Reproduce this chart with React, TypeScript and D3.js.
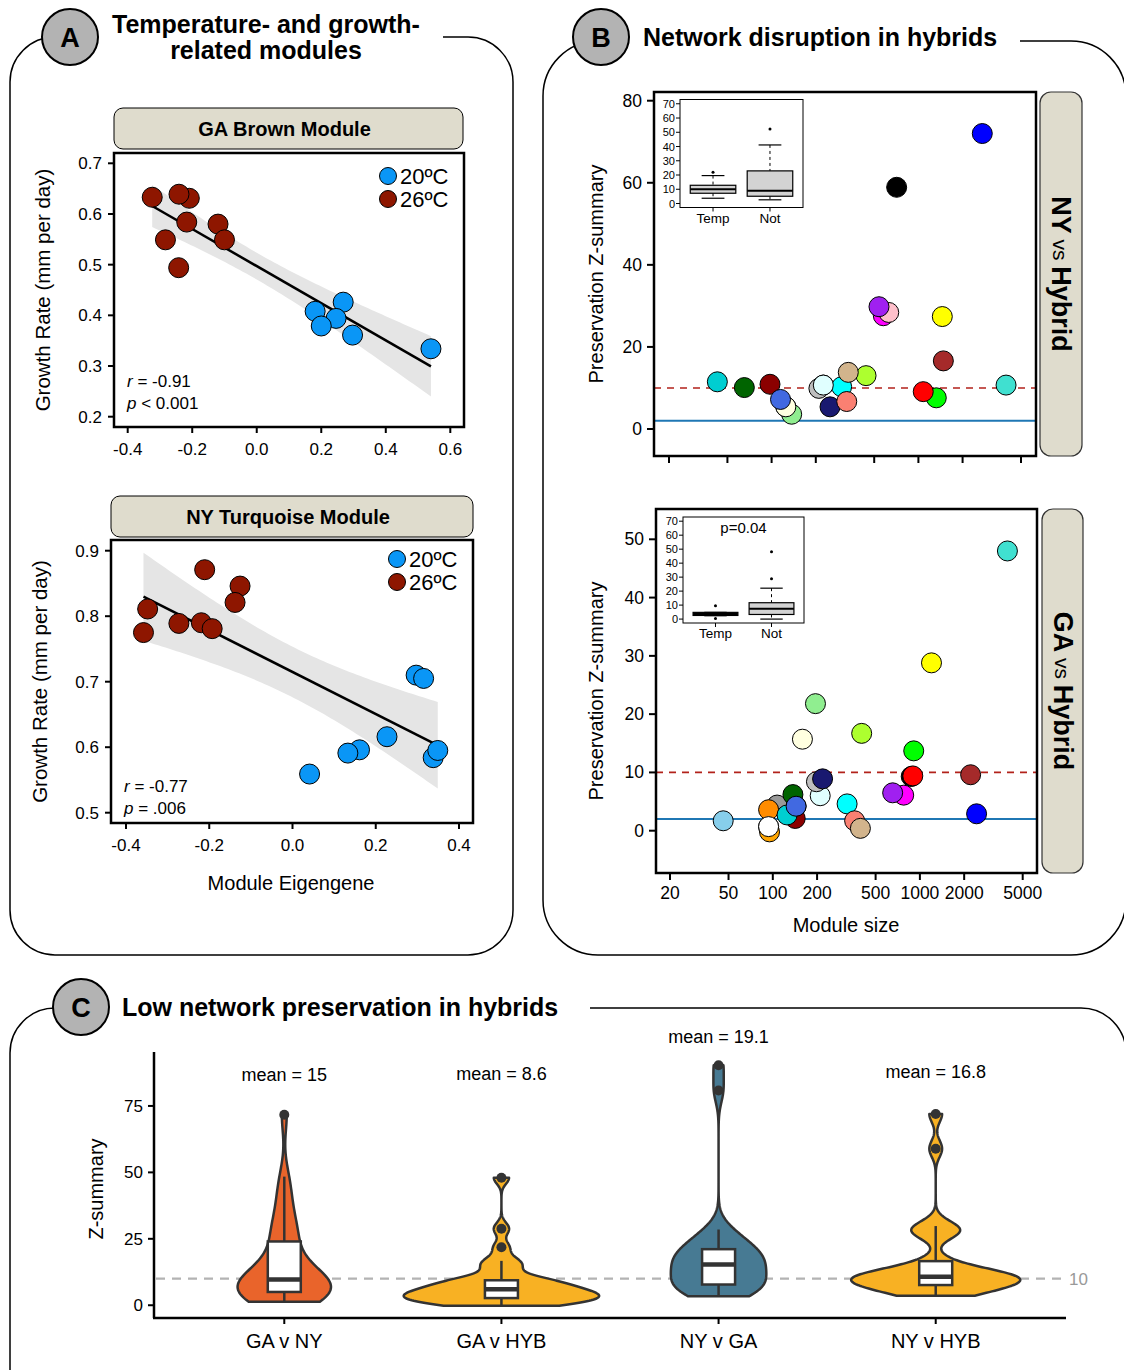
import * as d3 from 'd3';

const FONT = '"Liberation Sans", Arial, Helvetica, sans-serif';
const COL20 = '#0a96f6';
const COL26 = '#8e1600';
const STRIP_FILL = '#dfdccd';

// ---------- Panel A: eigengene vs growth rate ----------
const tempLabels = ['20ºC', '26ºC'];

const gaBrownEig20 = [0.181, 0.268, 0.246, 0.2, 0.297, 0.54];
const gaBrownGrowth20 = [0.408, 0.426, 0.394, 0.379, 0.361, 0.334];
const gaBrownEig26 = [-0.324, -0.209, -0.241, -0.217, -0.12, -0.1, -0.283, -0.242];
const gaBrownGrowth26 = [0.633, 0.631, 0.639, 0.584, 0.58, 0.549, 0.549, 0.494];

const nyTurqEig20 = [0.297, 0.315, 0.227, 0.161, 0.133, 0.041, 0.338, 0.349];
const nyTurqGrowth20 = [0.71, 0.705, 0.616, 0.596, 0.591, 0.559, 0.584, 0.595];
const nyTurqEig26 = [-0.211, -0.126, -0.138, -0.348, -0.273, -0.219, -0.193, -0.358];
const nyTurqGrowth26 = [0.871, 0.846, 0.821, 0.811, 0.789, 0.79, 0.781, 0.775];

const gaBrownXTicks = [-0.4, -0.2, 0, 0.2, 0.4, 0.6];
const gaBrownYTicks = [0.2, 0.3, 0.4, 0.5, 0.6, 0.7];
const nyTurqXTicks = [-0.4, -0.2, 0, 0.2, 0.4];
const nyTurqYTicks = [0.5, 0.6, 0.7, 0.8, 0.9];

// ---------- Panel B: preservation vs module size ----------
const moduleColors: Record<string, string> = {
  darkturquoise: '#00CED1', darkgreen: '#006400', darkred: '#8B0000', lightgreen: '#90EE90',
  lightyellow: '#FFFFE0', royalblue: '#4169E1', grey: '#BEBEBE', lightcyan: '#E0FFFF',
  cyan: '#00FFFF', midnightblue: '#191970', salmon: '#FA8072', tan: '#D2B48C',
  greenyellow: '#ADFF2F', magenta: '#FF00FF', pink: '#FFC0CB', purple: '#A020F0',
  black: '#000000', red: '#FF0000', green: '#00FF00', yellow: '#FFFF00', brown: '#A52A2A',
  turquoise: '#40E0D0', blue: '#0000FF', white: '#FFFFFF', skyblue: '#87CEEB',
  orange: '#FFA500', darkorange: '#FF8C00', grey60: '#999999', lightgrey: '#D3D3D3',
  steelblue: '#4682B4',
};

const nyHybModules = ['white', 'skyblue', 'turquoise', 'blue', 'black', 'darkturquoise', 'darkgreen',
  'darkred', 'lightgreen', 'lightyellow', 'royalblue', 'greenyellow', 'grey', 'cyan', 'lightcyan',
  'midnightblue', 'salmon', 'tan', 'magenta', 'pink', 'purple', 'green', 'red', 'yellow', 'brown'];
const nyHybSize = [125, 225, 3955, 2724, 711, 42.7, 65.2, 97.5, 137, 125, 115, 440, 210, 300, 225,
  250, 325, 333, 577, 628, 539, 1324, 1079, 1455, 1479];
const nyHybZ = [5.4, 10.7, 10.7, 72.0, 58.9, 11.5, 10.1, 10.9, 3.6, 5.4, 7.2, 13.0, 9.9, 10.3, 10.7,
  5.4, 6.7, 13.8, 27.6, 28.4, 29.8, 7.6, 9.1, 27.4, 16.6];

const gaHybModules = ['lightgrey', 'steelblue', 'turquoise', 'yellow', 'lightgreen', 'lightyellow',
  'greenyellow', 'green', 'black', 'red', 'brown', 'blue', 'magenta', 'purple', 'lightcyan', 'grey',
  'midnightblue', 'cyan', 'salmon', 'tan', 'skyblue', 'orange', 'grey60', 'darkorange', 'white',
  'darkred', 'darkgreen', 'darkturquoise', 'royalblue'];
const gaHybSize = [93.6, 144, 3936, 1199, 195, 159, 402, 908, 873, 895, 2213, 2429, 776, 653, 210,
  198, 218, 320, 360, 394, 46, 95, 107, 93.6, 93.6, 142, 137, 125, 144];
const gaHybZ = [0.7, 4.2, 48.0, 28.8, 21.8, 15.7, 16.7, 13.7, 9.3, 9.4, 9.6, 2.9, 6.1, 6.5, 6.0,
  8.4, 8.9, 4.6, 1.7, 0.4, 1.7, -0.2, 4.4, 3.6, 0.7, 2.1, 6.2, 2.7, 4.2];

const sizeTicks = [20, 50, 100, 200, 500, 1000, 2000, 5000];
const nyHybYTicks = [0, 20, 40, 60, 80];
const gaHybYTicks = [0, 10, 20, 30, 40, 50];
const zThreshold = 10;
const zLow = 2;

// inset boxplots: [whiskerLo, q1, median, q3, whiskerHi]
const insetGroups = ['Temp', 'Not'];
const insetTicks = [0, 10, 20, 30, 40, 50, 60, 70];
const nyInsetStats = [[3.7, 7.2, 10.0, 12.8, 19.6], [2.6, 5.1, 8.9, 22.9, 41.1]];
const nyInsetOutliers = [[21.9], [52.3]];
const gaInsetStats = [[2.4, 2.6, 3.6, 4.8, 4.8], [0.0, 3.3, 7.4, 11.7, 22.1]];
const gaInsetOutliers = [[0.5, 9.5], [28.8, 48.1]];

// ---------- Panel C: violins ----------
const comparisons = ['GA v NY', 'GA v HYB', 'NY v GA', 'NY v HYB'];
const gaNyZ = [1.3, 1.8, 2.4, 3.0, 3.5, 4.0, 4.4, 4.7, 5.0, 5.4, 5.9, 6.4, 6.9, 7.4, 8.0, 8.7, 9.7,
  10.5, 11.3, 12.2, 13.3, 14.8, 16.8, 19.5, 24.0, 25.5, 27.5, 30.0, 33.5, 38.0, 43.0, 48.4, 71.7];
const nyGaZ = [3.4, 4.5, 5.5, 6.2, 6.8, 7.3, 7.8, 9.0, 10.5, 12.0, 13.2, 14.3, 15.3, 16.2, 17.0,
  18.0, 19.0, 20.0, 21.1, 22.5, 24.0, 26.0, 28.5, 80.8, 90.3];
const violinValues = [gaNyZ, gaHybZ, nyGaZ, nyHybZ];
const violinFill = ['#e9642b', '#f8b123', '#477a93', '#f8b123'];
const meanLabels = ['mean = 15', 'mean = 8.6', 'mean = 19.1', 'mean = 16.8'];
const meanLabelZ = [86.7, 87.0, 101, 87.8];
const violinYTicks = [0, 25, 50, 75];

// ---------- helpers ----------
function linFit(xs: number[], ys: number[]) {
  const n = xs.length;
  const mx = d3.mean(xs)!, my = d3.mean(ys)!;
  let sxx = 0, sxy = 0;
  xs.forEach((x, i) => { sxx += (x - mx) ** 2; sxy += (x - mx) * (ys[i] - my); });
  const b = sxy / sxx, a = my - b * mx;
  let sse = 0;
  xs.forEach((x, i) => { sse += (ys[i] - a - b * x) ** 2; });
  const s = Math.sqrt(sse / (n - 2));
  return { a, b, se: (x: number) => s * Math.sqrt(1 / n + (x - mx) ** 2 / sxx) };
}

function kde(values: number[], m = 256) {
  const v = values.slice().sort(d3.ascending);
  const sd = d3.deviation(v)!;
  const iqr = d3.quantile(v, 0.75)! - d3.quantile(v, 0.25)!;
  const bw = 0.9 * Math.min(sd, iqr / 1.34) * Math.pow(v.length, -0.2);
  const [lo, hi] = d3.extent(v) as [number, number];
  return d3.range(m).map(i => {
    const y = lo + (hi - lo) * i / (m - 1);
    const d = d3.mean(v, t => Math.exp(-0.5 * ((y - t) / bw) ** 2))! / (bw * Math.sqrt(2 * Math.PI));
    return [y, d] as [number, number];
  });
}

function boxStats(values: number[]) {
  const v = values.slice().sort(d3.ascending);
  const q1 = d3.quantile(v, 0.25)!, med = d3.quantile(v, 0.5)!, q3 = d3.quantile(v, 0.75)!;
  const iqr = q3 - q1;
  const inside = v.filter(t => t >= q1 - 1.5 * iqr && t <= q3 + 1.5 * iqr);
  return {
    q1, med, q3,
    lo: d3.min(inside)!, hi: d3.max(inside)!,
    out: v.filter(t => t < q1 - 1.5 * iqr || t > q3 + 1.5 * iqr),
  };
}

function framePath(x0: number, y0: number, x1: number, y1: number, r: number, startX: number) {
  return `M${startX},${y0} H${x1 - r} A${r},${r} 0 0 1 ${x1},${y0 + r} V${y1 - r}` +
    ` A${r},${r} 0 0 1 ${x1 - r},${y1} H${x0 + r} A${r},${r} 0 0 1 ${x0},${y1 - r}` +
    ` V${y0 + r} A${r},${r} 0 0 1 ${x0 + r},${y0}`;
}

function PanelHead({ cx, cy, letter, lines, tx, ty, anchor }: any) {
  return (
    <g>
      <circle cx={cx} cy={cy} r={28} fill="#b3b3b3" stroke="#000" strokeWidth={2} />
      <text x={cx} y={cy + 10} textAnchor="middle" fontSize={27} fontWeight="bold">{letter}</text>
      {lines.map((l: string, i: number) => (
        <text key={i} x={tx} y={ty + i * 26} textAnchor={anchor} fontSize={25} fontWeight="bold">{l}</text>
      ))}
    </g>
  );
}

// ---------- Panel A scatter ----------
function ScatterA({ x20, y20, x26, y26, xs, ys, box, xTicks, yTicks, tCrit, title, strip,
  stat, statY, legendX, legendY, yLabelX }: any) {
  const allX = [...x20, ...x26], allY = [...y20, ...y26];
  const fit = linFit(allX, allY);
  const [xmin, xmax] = d3.extent(allX) as [number, number];
  const grid = d3.range(81).map(i => xmin + (xmax - xmin) * i / 80);
  const band = d3.area<number>()
    .x(d => xs(d))
    .y0(d => ys(fit.a + fit.b * d - tCrit * fit.se(d)))
    .y1(d => ys(fit.a + fit.b * d + tCrit * fit.se(d)))(grid);
  const midY = (box.y0 + box.y1) / 2;
  return (
    <g>
      <rect x={strip.x0} y={strip.y0} width={strip.x1 - strip.x0} height={strip.y1 - strip.y0}
        rx={9} fill={STRIP_FILL} stroke="#000" strokeWidth={1} />
      <text x={(strip.x0 + strip.x1) / 2 - 4} y={(strip.y0 + strip.y1) / 2 + 7} textAnchor="middle"
        fontSize={20} fontWeight="bold">{title}</text>
      <rect x={box.x0} y={box.y0} width={box.x1 - box.x0} height={box.y1 - box.y0} fill="#fff" />
      <path d={band!} fill="#e5e5e5" />
      <line x1={xs(xmin)} y1={ys(fit.a + fit.b * xmin)} x2={xs(xmax)} y2={ys(fit.a + fit.b * xmax)}
        stroke="#000" strokeWidth={2.5} />
      {x26.map((x: number, i: number) => (
        <circle key={'r' + i} cx={xs(x)} cy={ys(y26[i])} r={10} fill={COL26} stroke="#000" strokeWidth={1} />
      ))}
      {x20.map((x: number, i: number) => (
        <circle key={'b' + i} cx={xs(x)} cy={ys(y20[i])} r={10} fill={COL20} stroke="#000" strokeWidth={1} />
      ))}
      <rect x={box.x0} y={box.y0} width={box.x1 - box.x0} height={box.y1 - box.y0} fill="none"
        stroke="#000" strokeWidth={2.5} />
      {xTicks.map((t: number) => (
        <g key={'x' + t}>
          <line x1={xs(t)} x2={xs(t)} y1={box.y1} y2={box.y1 + 6} stroke="#000" strokeWidth={2} />
          <text x={xs(t)} y={box.y1 + 28} textAnchor="middle" fontSize={17}>{t.toFixed(1)}</text>
        </g>
      ))}
      {yTicks.map((t: number) => (
        <g key={'y' + t}>
          <line x1={box.x0 - 6} x2={box.x0} y1={ys(t)} y2={ys(t)} stroke="#000" strokeWidth={2} />
          <text x={box.x0 - 12} y={ys(t) + 6} textAnchor="end" fontSize={17}>{t.toFixed(1)}</text>
        </g>
      ))}
      <text transform={`translate(${yLabelX},${midY}) rotate(-90)`} textAnchor="middle" fontSize={20.5}>
        Growth Rate (mm per day)
      </text>
      {tempLabels.map((l, i) => (
        <g key={l}>
          <circle cx={legendX} cy={legendY + i * 23} r={8.5} fill={i === 0 ? COL20 : COL26} stroke="#000" strokeWidth={1} />
          <text x={legendX + 12} y={legendY + i * 23 + 8} fontSize={22}>{l}</text>
        </g>
      ))}
      <text x={box.x0 + 13} y={statY} fontSize={17}>
        <tspan fontStyle="italic">r</tspan> = {stat[0]}
      </text>
      <text x={box.x0 + 13} y={statY + 21.5} fontSize={17}>
        <tspan fontStyle="italic">p</tspan>{stat[1]}
      </text>
    </g>
  );
}

// ---------- Panel B scatter ----------
function ScatterB({ modules, sizes, zs, xs, ys, box, yTicks, showXLabels, strip, stripName,
  insetStats, insetOutliers, inset, pLabel }: any) {
  const midY = (box.y0 + box.y1) / 2;
  const ix = d3.scaleLinear().domain([0.42, 2.58]).range([inset.x0, inset.x1]);
  const iy = d3.scaleLinear().domain([-2.8, 73]).range([inset.y1, inset.y0]);
  const bw = ix(1.4) - ix(1);
  return (
    <g>
      <rect x={box.x0} y={box.y0} width={box.x1 - box.x0} height={box.y1 - box.y0} fill="#fff" />
      <line x1={box.x0} x2={box.x1} y1={ys(zLow)} y2={ys(zLow)} stroke="#1f77b4" strokeWidth={2} />
      <line x1={box.x0} x2={box.x1} y1={ys(zThreshold)} y2={ys(zThreshold)} stroke="#b2221b"
        strokeWidth={1.6} strokeDasharray="7,6" />
      {modules.map((m: string, i: number) => (
        <circle key={m} cx={xs(sizes[i])} cy={ys(zs[i])} r={10} fill={moduleColors[m]} stroke="#000" strokeWidth={1} />
      ))}
      <rect x={box.x0} y={box.y0} width={box.x1 - box.x0} height={box.y1 - box.y0} fill="none"
        stroke="#000" strokeWidth={2.5} />
      {sizeTicks.map(t => (
        <g key={'x' + t}>
          <line x1={xs(t)} x2={xs(t)} y1={box.y1} y2={box.y1 + 7} stroke="#000" strokeWidth={2} />
          {showXLabels && <text x={xs(t)} y={box.y1 + 26} textAnchor="middle" fontSize={17.5}>{t}</text>}
        </g>
      ))}
      {yTicks.map((t: number) => (
        <g key={'y' + t}>
          <line x1={box.x0 - 7} x2={box.x0} y1={ys(t)} y2={ys(t)} stroke="#000" strokeWidth={2} />
          <text x={box.x0 - 12} y={ys(t) + 6} textAnchor="end" fontSize={17.5}>{t}</text>
        </g>
      ))}
      <text transform={`translate(603,${midY}) rotate(-90)`} textAnchor="middle" fontSize={20}>
        Preservation Z-summary
      </text>
      <rect x={strip.x0} y={strip.y0} width={strip.x1 - strip.x0} height={strip.y1 - strip.y0}
        rx={11} fill={STRIP_FILL} stroke="#333" strokeWidth={1.2} />
      <text transform={`translate(${(strip.x0 + strip.x1) / 2},${(strip.y0 + strip.y1) / 2}) rotate(90)`}
        textAnchor="middle" dominantBaseline="central">
        <tspan fontSize={27} fontWeight="bold">{stripName}</tspan>
        <tspan fontSize={21}> vs </tspan>
        <tspan fontSize={27} fontWeight="bold">Hybrid</tspan>
      </text>
      {/* inset boxplot */}
      <rect x={inset.x0} y={inset.y0} width={inset.x1 - inset.x0} height={inset.y1 - inset.y0}
        fill="#fff" stroke="#000" strokeWidth={1} />
      {insetTicks.map(t => (
        <g key={'it' + t}>
          <line x1={inset.x0 - 4} x2={inset.x0} y1={iy(t)} y2={iy(t)} stroke="#000" strokeWidth={1} />
          <text x={inset.x0 - 5} y={iy(t) + 4} textAnchor="end" fontSize={11}>{t}</text>
        </g>
      ))}
      {insetGroups.map((g, i) => {
        const [lo, q1, md, q3, hi] = insetStats[i];
        const cx = ix(i + 1);
        return (
          <g key={g}>
            <line x1={cx} x2={cx} y1={iy(hi)} y2={iy(q3)} stroke="#000" strokeDasharray="3,3" />
            <line x1={cx} x2={cx} y1={iy(q1)} y2={iy(lo)} stroke="#000" strokeDasharray="3,3" />
            <line x1={cx - bw / 2} x2={cx + bw / 2} y1={iy(hi)} y2={iy(hi)} stroke="#000" strokeWidth={1.2} />
            <line x1={cx - bw / 2} x2={cx + bw / 2} y1={iy(lo)} y2={iy(lo)} stroke="#000" strokeWidth={1.2} />
            <rect x={cx - bw} y={iy(q3)} width={2 * bw} height={iy(q1) - iy(q3)} fill="#d3d3d3"
              stroke="#000" strokeWidth={1.2} />
            <line x1={cx - bw} x2={cx + bw} y1={iy(md)} y2={iy(md)} stroke="#000" strokeWidth={2} />
            {insetOutliers[i].map((o: number) => (
              <circle key={o} cx={cx} cy={iy(o)} r={1.5} fill="#000" />
            ))}
            <line x1={cx} x2={cx} y1={inset.y1} y2={inset.y1 + 4} stroke="#000" />
            <text x={cx} y={inset.y1 + 15} textAnchor="middle" fontSize={13.5}>{g}</text>
          </g>
        );
      })}
      {pLabel && (
        <text x={(inset.x0 + inset.x1) / 2} y={inset.y0 + 16} textAnchor="middle" fontSize={15}>{pLabel}</text>
      )}
    </g>
  );
}

export default function App() {
  // panel A scales
  const gaXs = d3.scaleLinear().domain([-0.4, 0.6]).range([127.7, 450.3]);
  const gaYs = d3.scaleLinear().domain([0.2, 0.7]).range([416.7, 163.3]);
  const nyXs = d3.scaleLinear().domain([-0.4, 0.4]).range([126, 459]);
  const nyYs = d3.scaleLinear().domain([0.5, 0.9]).range([812.7, 550.7]);

  // panel B scales
  const bTopX = d3.scaleLog().domain([20, 5000]).range([669, 1021]);
  const bTopY = d3.scaleLinear().domain([0, 80]).range([429, 100.7]);
  const bBotX = d3.scaleLog().domain([20, 5000]).range([670, 1022.7]);
  const bBotY = d3.scaleLinear().domain([0, 50]).range([830.7, 539.3]);

  // panel C scales
  const cx = d3.scalePoint<string>().domain(comparisons).range([154, 1066]).padding(0.6);
  const cy = d3.scaleLinear().domain([-4.8, 95.3]).range([1318, 1052]);
  const dens = violinValues.map(v => kde(v));
  const maxDens = d3.max(dens, d => d3.max(d, p => p[1]))!;
  const halfMax = 0.45 * cx.step();
  const boxHalf = 16.5;

  return (
    <svg width={1124} height={1370} style={{ position: 'absolute', left: 0, top: 0, background: '#fff' }}
      fontFamily={FONT}>
      <rect width={1124} height={1370} fill="#fff" />

      {/* frames */}
      <path d={framePath(10, 37, 513, 955, 45, 443)} fill="none" stroke="#000" strokeWidth={1.5} />
      <path d={framePath(543, 41, 1126, 955, 55, 1020)} fill="none" stroke="#000" strokeWidth={1.5} />
      <path d={framePath(10, 1008, 1126, 1420, 45, 590)} fill="none" stroke="#000" strokeWidth={1.5} />

      <PanelHead cx={70} cy={37} letter="A" lines={['Temperature- and growth-', 'related modules']}
        tx={266} ty={33} anchor="middle" />
      <PanelHead cx={601} cy={37} letter="B" lines={['Network disruption in hybrids']}
        tx={643} ty={46} anchor="start" />
      <PanelHead cx={81} cy={1007} letter="C" lines={['Low network preservation in hybrids']}
        tx={122} ty={1016} anchor="start" />

      {/* Panel A */}
      <ScatterA x20={gaBrownEig20} y20={gaBrownGrowth20} x26={gaBrownEig26} y26={gaBrownGrowth26}
        xs={gaXs} ys={gaYs} box={{ x0: 114, y0: 153, x1: 464, y1: 427 }}
        xTicks={gaBrownXTicks} yTicks={gaBrownYTicks} tCrit={2.179}
        title="GA Brown Module" strip={{ x0: 114, y0: 108, x1: 463, y1: 149 }}
        stat={['-0.91', ' < 0.001']} statY={387} legendX={388} legendY={176} yLabelX={50} />
      <ScatterA x20={nyTurqEig20} y20={nyTurqGrowth20} x26={nyTurqEig26} y26={nyTurqGrowth26}
        xs={nyXs} ys={nyYs} box={{ x0: 111, y0: 540, x1: 473, y1: 823 }}
        xTicks={nyTurqXTicks} yTicks={nyTurqYTicks} tCrit={2.145}
        title="NY Turquoise Module" strip={{ x0: 111, y0: 496, x1: 473, y1: 537 }}
        stat={['-0.77', ' = .006']} statY={792} legendX={397} legendY={559} yLabelX={47} />
      <text x={291} y={890} textAnchor="middle" fontSize={20}>Module Eigengene</text>

      {/* Panel B */}
      <ScatterB modules={nyHybModules} sizes={nyHybSize} zs={nyHybZ} xs={bTopX} ys={bTopY}
        box={{ x0: 654, y0: 92, x1: 1036, y1: 456 }} yTicks={nyHybYTicks} showXLabels={false}
        strip={{ x0: 1040, y0: 92, x1: 1082, y1: 456 }} stripName="NY"
        insetStats={nyInsetStats} insetOutliers={nyInsetOutliers}
        inset={{ x0: 680, y0: 99.5, x1: 803, y1: 207.5 }} pLabel={null} />
      <ScatterB modules={gaHybModules} sizes={gaHybSize} zs={gaHybZ} xs={bBotX} ys={bBotY}
        box={{ x0: 656, y0: 509, x1: 1037, y1: 873 }} yTicks={gaHybYTicks} showXLabels={true}
        strip={{ x0: 1042, y0: 509, x1: 1083, y1: 873 }} stripName="GA"
        insetStats={gaInsetStats} insetOutliers={gaInsetOutliers}
        inset={{ x0: 683, y0: 517, x1: 804, y1: 623 }} pLabel="p=0.04" />
      <text x={846} y={932} textAnchor="middle" fontSize={20}>Module size</text>

      {/* Panel C */}
      <line x1={156} x2={1062} y1={cy(zThreshold)} y2={cy(zThreshold)} stroke="#b3b3b3"
        strokeWidth={2.2} strokeDasharray="9,7" />
      <text x={1069} y={cy(zThreshold) + 6} fontSize={17} fill="#999">10</text>
      {comparisons.map((c, i) => {
        const x0 = cx(c)!;
        const d = dens[i];
        const right = d.map(([y, v]) => [x0 + v / maxDens * halfMax, cy(y)] as [number, number]);
        const left = d.slice().reverse().map(([y, v]) => [x0 - v / maxDens * halfMax, cy(y)] as [number, number]);
        const path = d3.line()([...right, ...left]) + 'Z';
        const s = boxStats(violinValues[i]);
        return (
          <g key={c}>
            <path d={path} fill={violinFill[i]} stroke="#333" strokeWidth={2.5} strokeLinejoin="round" />
            <line x1={x0} x2={x0} y1={cy(s.hi)} y2={cy(s.q3)} stroke="#333" strokeWidth={2.5} />
            <line x1={x0} x2={x0} y1={cy(s.q1)} y2={cy(s.lo)} stroke="#333" strokeWidth={2.5} />
            <rect x={x0 - boxHalf} y={cy(s.q3)} width={2 * boxHalf} height={cy(s.q1) - cy(s.q3)}
              fill="#fff" stroke="#333" strokeWidth={2.5} />
            <line x1={x0 - boxHalf} x2={x0 + boxHalf} y1={cy(s.med)} y2={cy(s.med)} stroke="#333" strokeWidth={4.5} />
            {s.out.map((o, j) => (
              <circle key={j} cx={x0} cy={cy(o)} r={5} fill="#333" />
            ))}
            <text x={x0} y={cy(meanLabelZ[i]) + 6} textAnchor="middle" fontSize={18}>{meanLabels[i]}</text>
            <line x1={x0} x2={x0} y1={1318} y2={1324} stroke="#000" strokeWidth={2} />
            <text x={x0} y={1348} textAnchor="middle" fontSize={20}>{c}</text>
          </g>
        );
      })}
      <line x1={154} x2={154} y1={1052} y2={1318} stroke="#000" strokeWidth={2.5} />
      <line x1={153} x2={1066} y1={1318} y2={1318} stroke="#000" strokeWidth={2.5} />
      {violinYTicks.map(t => (
        <g key={'vy' + t}>
          <line x1={148} x2={154} y1={cy(t)} y2={cy(t)} stroke="#000" strokeWidth={2} />
          <text x={143} y={cy(t) + 6} textAnchor="end" fontSize={17}>{t}</text>
        </g>
      ))}
      <text transform={`translate(103,1189) rotate(-90)`} textAnchor="middle" fontSize={20}>Z-summary</text>
    </svg>
  );
}
